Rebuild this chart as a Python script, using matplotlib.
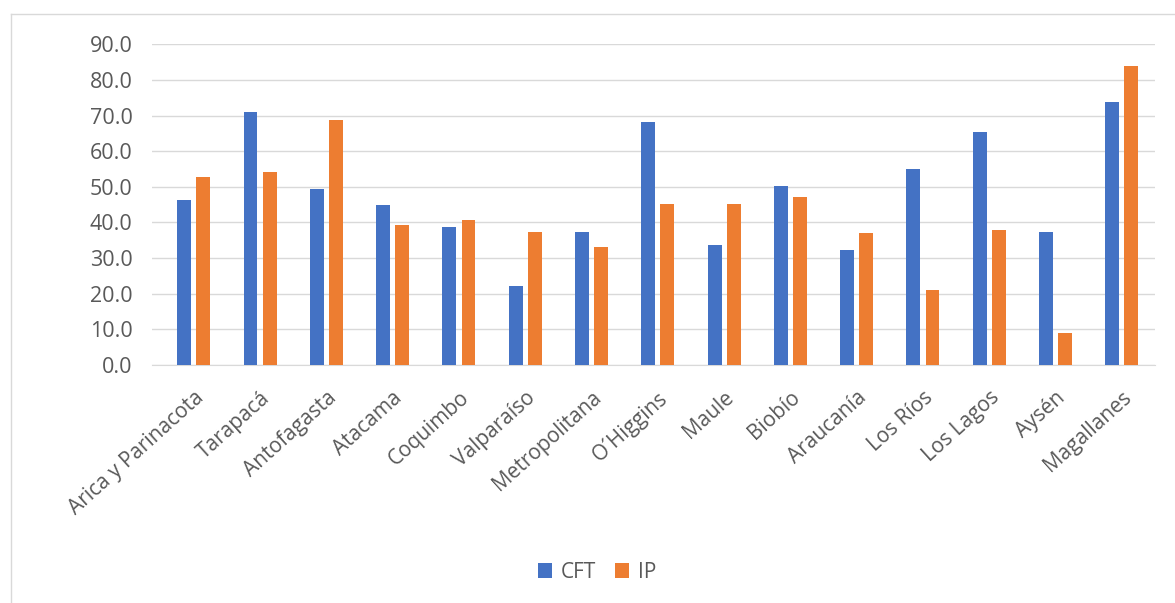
import numpy as np
import matplotlib.pyplot as plt
from matplotlib.lines import Line2D

regiones = ["Arica y Parinacota", "Tarapacá", "Antofagasta", "Atacama", "Coquimbo",
            "Valparaíso", "Metropolitana", "O´Higgins", "Maule", "Biobío",
            "Araucanía", "Los Ríos", "Los Lagos", "Aysén", "Magallanes"]
cft = [46.3, 70.9, 49.5, 44.8, 38.8, 22.1, 37.4, 68.1, 33.6, 50.3, 32.3, 55.0, 65.4, 37.4, 73.7]
ip = [52.8, 54.2, 68.7, 39.2, 40.7, 37.4, 33.2, 45.3, 45.3, 47.1, 37.0, 21.0, 37.9, 9.0, 84.0]
yticks = np.arange(0, 91, 10)

azul = "#4472C4"
naranjo = "#ED7D31"
gris_txt = "#595959"
gris_lin = "#D9D9D9"

plt.rcParams['font.family'] = ['Open Sans', 'DejaVu Sans']

fig = plt.figure(figsize=(11.75, 6.03), dpi=100)
ax = fig.add_axes([152 / 1175, 1 - 365 / 603, 1003 / 1175, (365 - 44.3) / 603])

x = np.arange(len(regiones))
w = 0.21
ax.bar(x - 0.144, cft, width=w, color=azul, label="CFT", zorder=3)
ax.bar(x + 0.144, ip, width=w, color=naranjo, label="IP", zorder=3)

ax.set_xlim(-0.63, len(regiones) - 0.5)
ax.set_ylim(0, 90)
ax.set_yticks(yticks)
ax.set_yticklabels([f"{v:.1f}" for v in yticks], fontsize=15.5, color=gris_txt)
ax.yaxis.grid(True, color=gris_lin, linewidth=1, zorder=0)
ax.tick_params(axis="y", length=0, pad=14)
ax.tick_params(axis="x", length=0, pad=16)
ax.set_xticks(x)
ax.set_xticklabels(regiones, rotation=42, ha="right", rotation_mode="anchor",
                   fontsize=15, color=gris_txt)
for s in ["top", "right", "left"]:
    ax.spines[s].set_visible(False)
ax.spines["bottom"].set_color(gris_lin)

# marco del gráfico
fig.add_artist(Line2D([11 / 1175, 11 / 1175], [0, 1 - 14 / 603], color=gris_lin, lw=1))
fig.add_artist(Line2D([11 / 1175, 1], [1 - 14 / 603, 1 - 14 / 603], color=gris_lin, lw=1))

fig.legend(loc="center", bbox_to_anchor=(597 / 1175, 1 - 572 / 603), ncol=2,
           frameon=False, fontsize=15, handlelength=0.7, handleheight=0.7,
           handletextpad=0.4, columnspacing=0.9, labelcolor=gris_txt)

fig.savefig("out.png", dpi=100)
